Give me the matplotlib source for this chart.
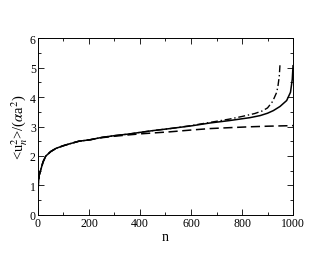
import matplotlib
matplotlib.use("Agg")
import matplotlib.pyplot as plt
from matplotlib.ticker import MultipleLocator

plt.rcParams['font.family'] = ['Liberation Serif', 'DejaVu Serif']
plt.rcParams['mathtext.fontset'] = 'stix'

# solid curve
n_solid = [0, 2, 5, 12, 20, 31, 50, 71, 100, 123, 160, 204, 250, 300, 361, 400, 450,
           518, 600, 675, 750, 831, 871, 900, 923, 949, 975, 990, 997, 1000]
u_solid = [0.75, 1.1, 1.35, 1.56, 1.8, 2.0, 2.15, 2.26, 2.35, 2.41, 2.5, 2.55, 2.63, 2.69,
           2.75, 2.8, 2.86, 2.93, 3.02, 3.12, 3.2, 3.3, 3.37, 3.45, 3.54, 3.68, 3.88, 4.16,
           4.6, 5.06]

# dashed curve
n_dash = [0, 2, 5, 12, 20, 31, 50, 71, 100, 123, 160, 204, 250, 300, 361, 400, 450,
          518, 600, 675, 750, 831, 900, 950, 1000]
u_dash = [0.75, 1.1, 1.35, 1.56, 1.8, 2.0, 2.15, 2.26, 2.35, 2.41, 2.5, 2.55, 2.62, 2.67,
          2.72, 2.75, 2.78, 2.82, 2.88, 2.93, 2.96, 2.99, 3.01, 3.02, 3.03]

# dash-dot curve
n_dd = [0, 2, 5, 12, 20, 31, 50, 71, 100, 123, 160, 204, 250, 300, 361, 400, 450,
        518, 600, 675, 750, 800, 850, 880, 900, 920, 936, 941, 946, 949]
u_dd = [0.75, 1.1, 1.35, 1.56, 1.8, 2.0, 2.15, 2.26, 2.35, 2.41, 2.5, 2.55, 2.63, 2.69,
        2.75, 2.8, 2.86, 2.93, 3.03, 3.14, 3.25, 3.34, 3.44, 3.53, 3.63, 3.85, 4.16, 4.38,
        4.7, 5.12]

fig = plt.figure(figsize=(3.3, 2.55), dpi=100)
ax = fig.add_axes([0.115, 0.153, 0.773, 0.694])

ax.plot(n_solid, u_solid, color='black', lw=1.1, ls='-')
ax.plot(n_dash, u_dash, color='black', lw=1.1, ls=(0, (6, 3)))
ax.plot(n_dd, u_dd, color='black', lw=1.0, ls=(0, (5, 2, 1, 2)))

ax.set_xlim(0, 1000)
ax.set_ylim(0, 6)
ax.xaxis.set_major_locator(MultipleLocator(200))
ax.xaxis.set_minor_locator(MultipleLocator(100))
ax.yaxis.set_major_locator(MultipleLocator(1))
ax.yaxis.set_minor_locator(MultipleLocator(0.5))
ax.tick_params(which='both', direction='in', top=True, right=True, labelsize=8.5, pad=1.5)
ax.tick_params(which='major', length=4, width=0.6)
ax.tick_params(which='minor', length=2, width=0.6)
for s in ax.spines.values():
    s.set_linewidth(0.7)

ax.set_xlabel('n', fontsize=10, labelpad=1)
ax.set_ylabel(r'<u$_n^2$>/($\alpha$a$^2$)', fontsize=10.5, labelpad=0)

fig.savefig('out.png', dpi=100)
